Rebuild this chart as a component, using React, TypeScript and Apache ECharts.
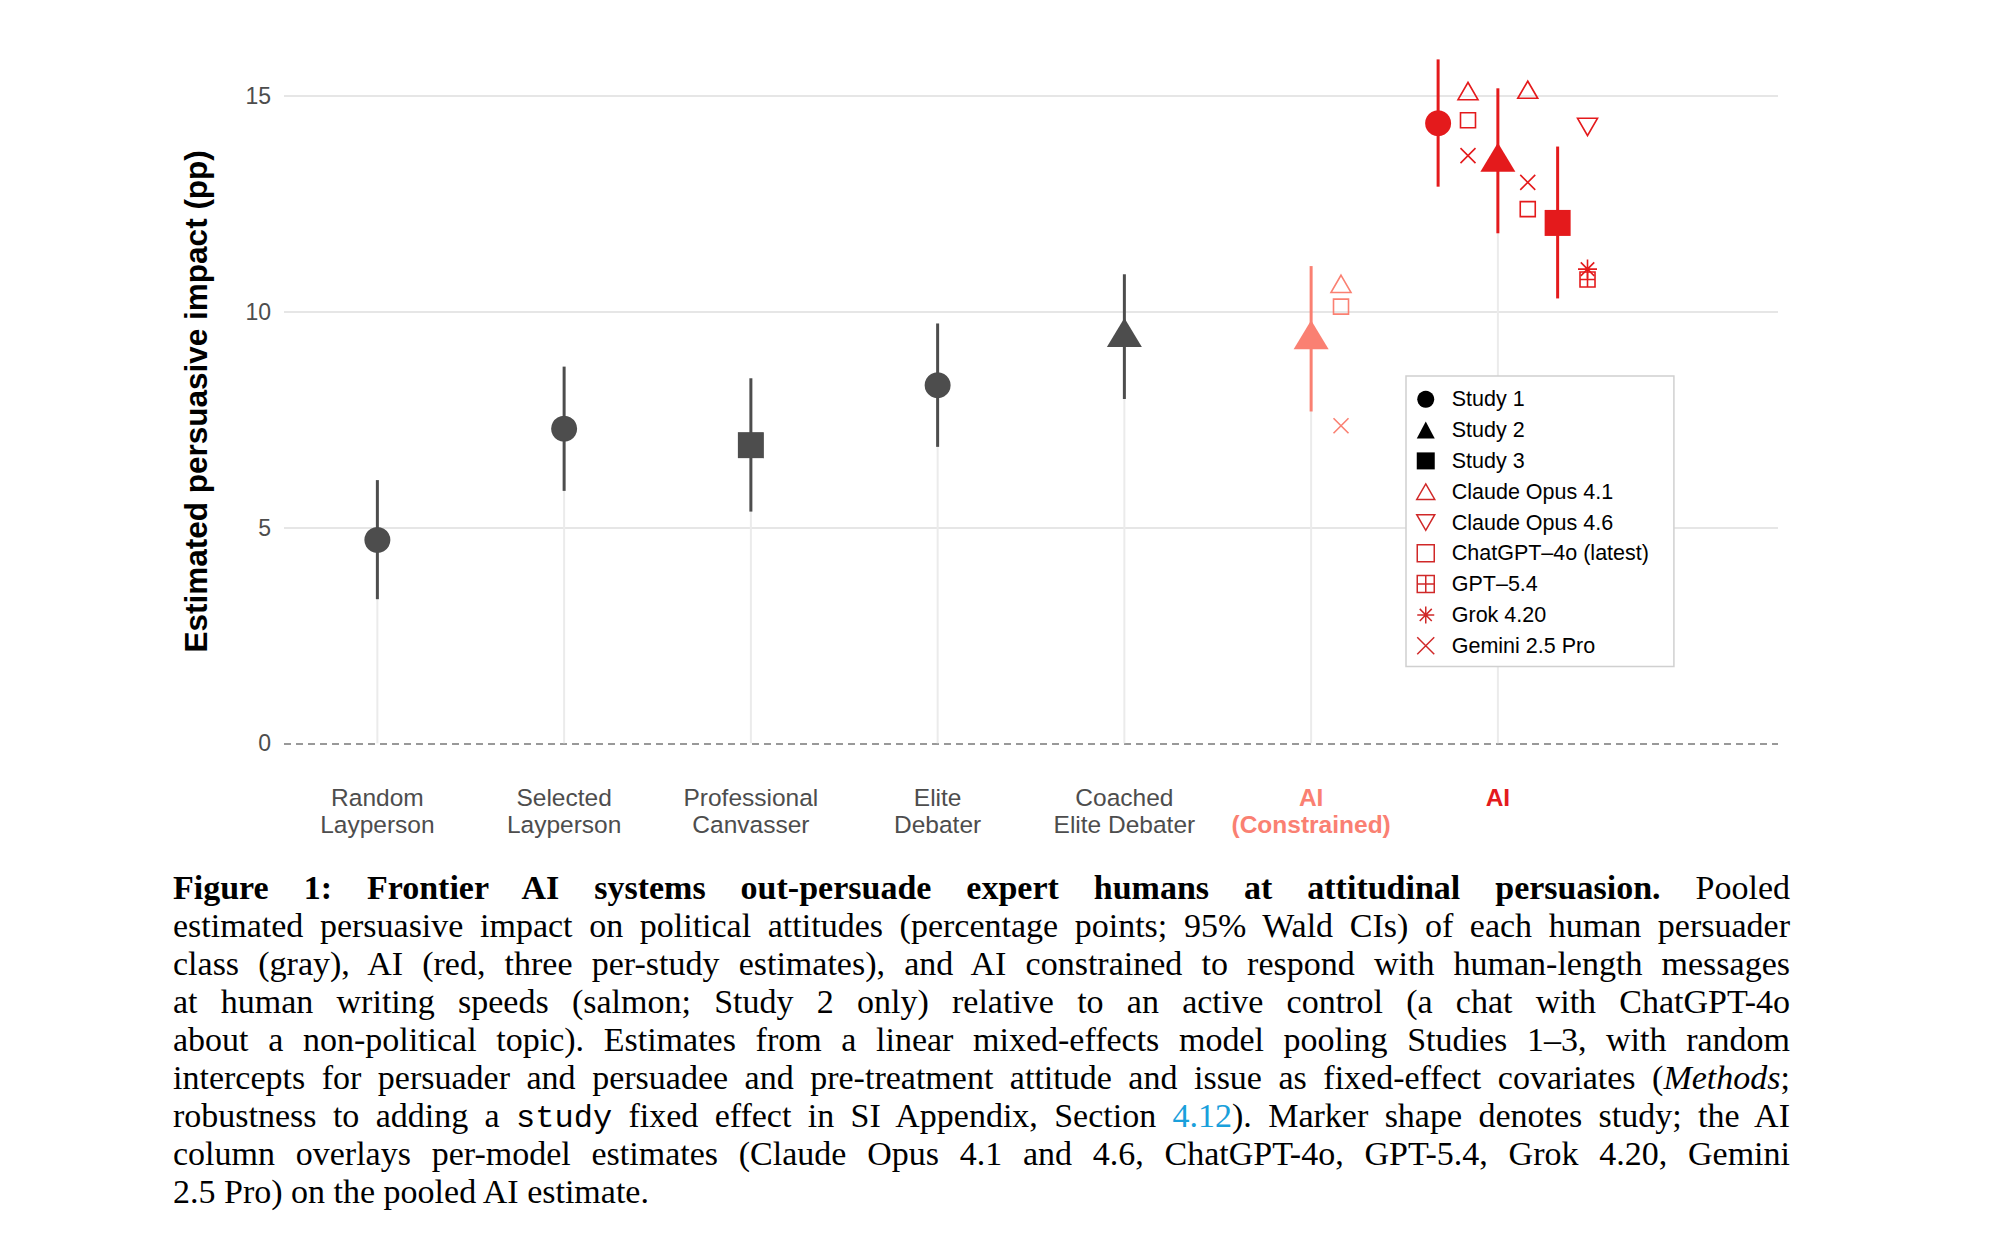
import React, { useEffect, useRef } from 'react';
import * as echarts from 'echarts';

// ---------- data ----------
const CATEGORIES = [
  'Random\nLayperson',
  'Selected\nLayperson',
  'Professional\nCanvasser',
  'Elite\nDebater',
  'Coached\nElite Debater',
  'AI\n(Constrained)',
  'AI',
  '',
];
const CATEGORY_STYLE = ['g', 'g', 'g', 'g', 'g', 's', 'r', 'g'];

// human persuader classes (category index 0..4)
const HUMAN_EST = [4.71, 7.29, 6.91, 8.3, 9.41];
const HUMAN_LO = [3.34, 5.85, 5.37, 6.87, 7.98];
const HUMAN_HI = [6.1, 8.73, 8.46, 9.73, 10.87];
const HUMAN_STUDY = [1, 1, 3, 1, 2];

// AI constrained (Study 2 only), category index 5
const AI_CONSTRAINED = [9.36, 7.69, 11.06]; // est, lo, hi

// AI per study (Study 1, 2, 3), category index 6
const AI_EST = [14.37, 13.47, 12.06];
const AI_LO = [12.9, 11.82, 10.31];
const AI_HI = [15.85, 15.18, 13.83];

// per-model estimates
const MODELS = ['Claude Opus 4.1', 'Claude Opus 4.6', 'ChatGPT–4o (latest)', 'GPT–5.4', 'Grok 4.20', 'Gemini 2.5 Pro'];
const MODEL_EST_S1 = [15.05, null, 14.44, null, null, 13.62];
const MODEL_EST_S2 = [15.08, null, 12.38, null, null, 13.0];
const MODEL_EST_S3 = [null, 14.35, null, 10.75, 10.99, null];
const MODEL_EST_CONSTRAINED = [10.58, null, 10.12, null, null, 7.36];

const Y_TICKS = [0, 5, 10, 15];
const Y_GRID = [5, 10, 15];

// ---------- styling ----------
const GRAY = '#4D4D4D';
const RED = '#E41A1C';
const SALMON = '#FA8072';
const LEGEND_RED = '#D02828';
const SANS = '"Liberation Sans", Arial, Helvetica, sans-serif';

const STUDY_OFFSET = [-0.32, 0, 0.32];
const MODEL_OFFSET = 0.16;
const AI_IDX = 6;
const AIC_IDX = 5;

const TRI_UP = 'path://M8,0L16,13.86L0,13.86Z';
const TRI_DOWN = 'path://M0,0L16,0L8,13.86Z';
const SQUARE = 'path://M0,0L16,0L16,16L0,16Z';
const SQUARE_PLUS = 'path://M0,0L16,0L16,16L0,16ZM8,0L8,16M0,8L16,8';
const ASTERISK = 'path://M8,0L8,16M0,8L16,8M2.34,2.34L13.66,13.66M13.66,2.34L2.34,13.66';
const CROSS = 'path://M0,0L16,16M16,0L0,16';

const MODEL_SYMBOL = [TRI_UP, TRI_DOWN, SQUARE, SQUARE_PLUS, ASTERISK, CROSS];
const MODEL_SIZE: any[] = [[20, 17.3], [20, 17.3], 15, 15, 19, 15];
const MODEL_SYM_OFFSET: any[] = [[0, -2.9], [0, 2.9], [0, 0], [0, 0], [0, 0], [0, 0]];

type Seg = [string, string];
const CAPTION_LINES: Seg[][] = [
  [['Figure 1: Frontier AI systems out-persuade expert humans at attitudinal persuasion.', 'b'], [' Pooled', '']],
  [['estimated persuasive impact on political attitudes (percentage points; 95% Wald CIs) of each human persuader', '']],
  [['class (gray), AI (red, three per-study estimates), and AI constrained to respond with human-length messages', '']],
  [['at human writing speeds (salmon; Study 2 only) relative to an active control (a chat with ChatGPT-4o', '']],
  [['about a non-political topic). Estimates from a linear mixed-effects model pooling Studies 1–3, with random', '']],
  [['intercepts for persuader and persuadee and pre-treatment attitude and issue as fixed-effect covariates (', ''], ['Methods', 'i'], [';', '']],
  [['robustness to adding a ', ''], ['study', 'm'], [' fixed effect in SI Appendix, Section ', ''], ['4.12', 'l'], ['). Marker shape denotes study; the AI', '']],
  [['column overlays per-model estimates (Claude Opus 4.1 and 4.6, ChatGPT-4o, GPT-5.4, Grok 4.20, Gemini', '']],
  [['2.5 Pro) on the pooled AI estimate.', '']],
];

const CHART_H = 860;

function buildOption(): any {
  // stems from 0 to estimate at each category centre
  const stemTops = [...HUMAN_EST, AI_CONSTRAINED[0], AI_EST[1]];
  const stemData = stemTops.map((v, i) => [i, 0, v]);

  const ciGray = HUMAN_EST.map((_, i) => [i, HUMAN_LO[i], HUMAN_HI[i]]);
  const ciSalmon = [[AIC_IDX, AI_CONSTRAINED[1], AI_CONSTRAINED[2]]];
  const ciRed = AI_EST.map((_, s) => [AI_IDX + STUDY_OFFSET[s], AI_LO[s], AI_HI[s]]);

  const rangeSeries = (name: string, data: number[][], color: string, width: number, z: number, extra: any = {}) => ({
    type: 'custom',
    name,
    xAxisIndex: 1,
    yAxisIndex: 0,
    silent: true,
    z,
    data,
    encode: { x: 0, y: [1, 2] },
    renderItem: (params: any, api: any) => {
      const a = api.coord([api.value(0), api.value(1)]);
      const b = api.coord([api.value(0), api.value(2)]);
      return {
        type: 'line',
        shape: { x1: a[0], y1: a[1], x2: b[0], y2: b[1] },
        style: { stroke: color, lineWidth: width },
      };
    },
    ...extra,
  });

  const studyPoints = (study: number) => {
    const pts: any[] = [];
    HUMAN_STUDY.forEach((s, i) => {
      if (s === study) pts.push({ value: [i, HUMAN_EST[i]], itemStyle: { color: GRAY } });
    });
    if (study === 2) pts.push({ value: [AIC_IDX, AI_CONSTRAINED[0]], itemStyle: { color: SALMON } });
    pts.push({ value: [AI_IDX + STUDY_OFFSET[study - 1], AI_EST[study - 1]], itemStyle: { color: RED } });
    return pts;
  };

  const studySeries = [
    { name: 'Study 1', symbol: 'circle', symbolSize: 26, symbolOffset: [0, 0] },
    { name: 'Study 2', symbol: 'triangle', symbolSize: [35, 29], symbolOffset: [0, -4.8] },
    { name: 'Study 3', symbol: 'rect', symbolSize: 26, symbolOffset: [0, 0] },
  ].map((s, k) => ({
    type: 'scatter',
    name: s.name,
    xAxisIndex: 1,
    yAxisIndex: 0,
    silent: true,
    z: 4,
    symbol: s.symbol,
    symbolSize: s.symbolSize,
    symbolOffset: s.symbolOffset,
    itemStyle: { color: '#000', opacity: 1 },
    data: studyPoints(k + 1),
  }));

  const modelSeries = MODELS.map((m, j) => {
    const data: any[] = [];
    [MODEL_EST_S1, MODEL_EST_S2, MODEL_EST_S3].forEach((arr, s) => {
      const v = arr[j];
      if (v !== null) data.push({ value: [AI_IDX + STUDY_OFFSET[s] + MODEL_OFFSET, v] });
    });
    const c = MODEL_EST_CONSTRAINED[j];
    if (c !== null) data.push({ value: [AIC_IDX + MODEL_OFFSET, c], itemStyle: { borderColor: SALMON } });
    return {
      type: 'scatter',
      name: m,
      xAxisIndex: 1,
      yAxisIndex: 0,
      silent: true,
      z: 5,
      symbol: MODEL_SYMBOL[j],
      symbolSize: MODEL_SIZE[j],
      symbolOffset: MODEL_SYM_OFFSET[j],
      itemStyle: { color: 'rgba(0,0,0,0)', borderColor: RED, borderWidth: 1.6, opacity: 1 },
      data,
    };
  });

  const legendData = [
    { name: 'Study 1', icon: 'circle', itemStyle: { color: '#000', borderWidth: 0 } },
    { name: 'Study 2', icon: 'triangle', itemStyle: { color: '#000', borderWidth: 0 } },
    { name: 'Study 3', icon: 'rect', itemStyle: { color: '#000', borderWidth: 0 } },
    ...MODELS.map((m, j) => ({
      name: m,
      icon: MODEL_SYMBOL[j],
      itemStyle: { color: 'rgba(0,0,0,0)', borderColor: LEGEND_RED, borderWidth: 1.5 },
    })),
  ];

  const labelColor: Record<string, any> = {
    g: { color: GRAY, fontSize: 24.5, lineHeight: 27, fontFamily: SANS },
    s: { color: SALMON, fontSize: 24.5, lineHeight: 27, fontFamily: SANS, fontWeight: 'bold' },
    r: { color: RED, fontSize: 24.5, lineHeight: 27, fontFamily: SANS, fontWeight: 'bold' },
  };

  return {
    animation: false,
    grid: { left: 284, right: 221, top: 25.3, bottom: CHART_H - 777.4, containLabel: false },
    xAxis: [
      {
        type: 'category',
        data: CATEGORIES,
        boundaryGap: true,
        axisLine: { show: false },
        axisTick: { show: false },
        splitLine: { show: false },
        axisLabel: {
          interval: 0,
          margin: 7,
          fontFamily: SANS,
          formatter: (value: string, index: number) => {
            if (!value) return '';
            const key = CATEGORY_STYLE[index];
            return value
              .split('\n')
              .map((l) => `{${key}|${l}}`)
              .join('\n');
          },
          rich: labelColor,
        },
      },
      { type: 'value', min: -0.5, max: 7.5, show: false },
    ],
    yAxis: {
      type: 'value',
      min: -0.79,
      max: 16.64,
      splitNumber: 3,
      minInterval: 5,
      maxInterval: 5,
      axisLine: { show: false },
      axisTick: { show: false },
      splitLine: { show: false },
      axisLabel: {
        showMinLabel: false,
        showMaxLabel: false,
        margin: 13,
        fontSize: 23,
        color: GRAY,
        fontFamily: SANS,
        formatter: (v: number) => {
          const r = Math.round(v * 1000) / 1000;
          return Y_TICKS.indexOf(r) >= 0 ? String(r) : '';
        },
      },
      name: 'Estimated persuasive impact (pp)',
      nameLocation: 'middle',
      nameGap: 72,
      nameRotate: 90,
      nameTextStyle: { fontSize: 31.5, fontWeight: 'bold', color: '#000', fontFamily: SANS },
    },
    legend: {
      show: true,
      orient: 'vertical',
      left: 1406,
      top: 376,
      padding: [12.3, 25, 9.8, 10],
      itemGap: 8.8,
      itemWidth: 18,
      itemHeight: 17,
      selectedMode: false,
      backgroundColor: '#FFFFFF',
      borderColor: '#D0D0D0',
      borderWidth: 1.5,
      borderRadius: 0,
      z: 10,
      data: legendData,
      formatter: (n: string) => `{t|${n}}`,
      textStyle: {
        fontSize: 21.5,
        lineHeight: 17,
        color: '#000',
        fontFamily: SANS,
        rich: { t: { fontSize: 21.5, lineHeight: 17, color: '#000', fontFamily: SANS, padding: [0, 0, 0, 12] } },
      },
    },
    series: [
      rangeSeries('stems', stemData, '#EBEBEB', 2, 2, {
        markLine: {
          silent: true,
          symbol: 'none',
          z: 1,
          animation: false,
          label: { show: false },
          data: [
            ...Y_GRID.map((v) => ({ yAxis: v, lineStyle: { color: '#E6E6E6', width: 2, type: 'solid' } })),
            { yAxis: Y_TICKS[0], lineStyle: { color: '#999999', width: 2, type: [7, 5] } },
          ],
        },
      }),
      rangeSeries('ciGray', ciGray, GRAY, 3, 3),
      rangeSeries('ciSalmon', ciSalmon, SALMON, 3, 3),
      rangeSeries('ciRed', ciRed, RED, 3, 3),
      ...studySeries,
      ...modelSeries,
    ],
  };
}

const segStyle = (k: string): React.CSSProperties => {
  if (k === 'b') return { fontWeight: 'bold' };
  if (k === 'i') return { fontStyle: 'italic' };
  if (k === 'm') return { fontFamily: '"Liberation Mono", "DejaVu Sans Mono", monospace', fontSize: 32 };
  if (k === 'l') return { color: '#1AA0DB' };
  return {};
};

export default function App() {
  const ref = useRef<HTMLDivElement>(null);
  useEffect(() => {
    if (!ref.current) return;
    const chart = echarts.init(ref.current, undefined, { renderer: 'svg' });
    chart.setOption(buildOption());
    return () => chart.dispose();
  }, []);

  return (
    <div style={{ position: 'fixed', left: 0, top: 0, width: 1999, height: 1245, background: '#fff', overflow: 'hidden' }}>
      <div ref={ref} style={{ position: 'absolute', left: 0, top: 0, width: 1999, height: CHART_H }} />
      <div
        style={{
          position: 'absolute',
          left: 173,
          top: 868.5,
          width: 1617,
          fontFamily: '"Liberation Serif", "Times New Roman", serif',
          fontSize: 34,
          lineHeight: '38.1px',
          color: '#000',
        }}
      >
        {CAPTION_LINES.map((line, i) => (
          <div
            key={i}
            style={{
              textAlign: 'justify',
              textAlignLast: i < CAPTION_LINES.length - 1 ? 'justify' : 'left',
              height: 38.1,
            } as React.CSSProperties}
          >
            {line.map((seg, k) => (
              <span key={k} style={segStyle(seg[1])}>
                {seg[0]}
              </span>
            ))}
          </div>
        ))}
      </div>
    </div>
  );
}
